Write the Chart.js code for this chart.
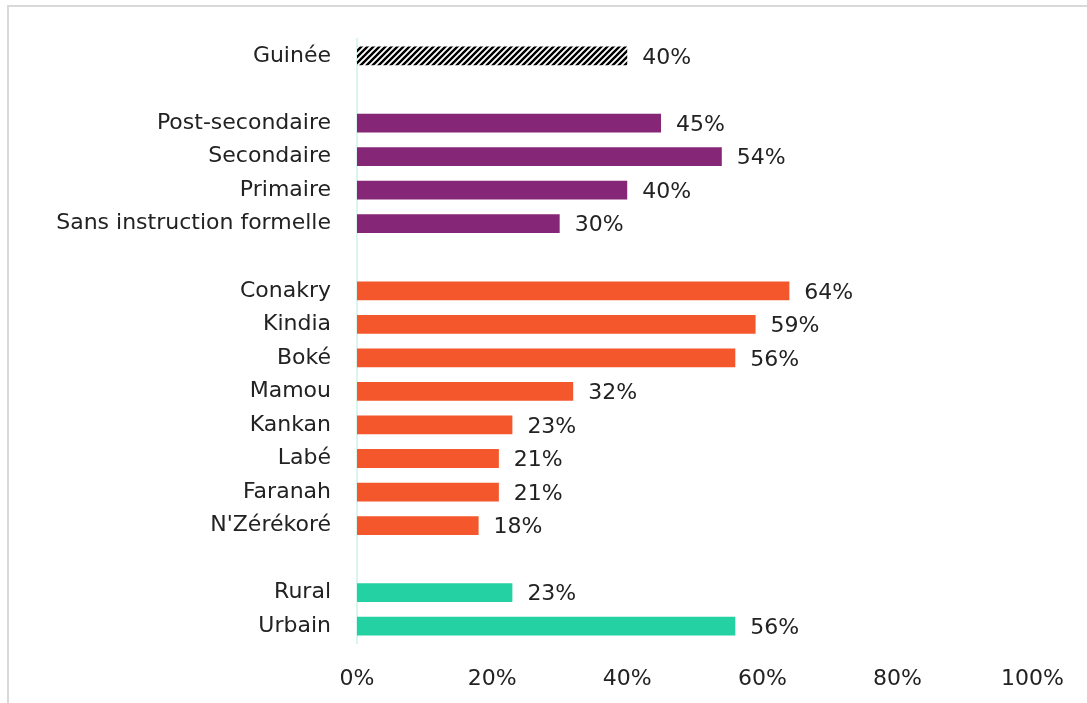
<!DOCTYPE html>
<html>
<head>
<meta charset="utf-8">
<script src="https://cdn.jsdelivr.net/npm/chart.js@4.4.1/dist/chart.umd.min.js"></script>
<style>
    html, body { margin: 0; padding: 0; background: #fff; }
    #wrap { position: relative; width: 1087px; height: 703px; overflow: hidden; }
    #frame { position: absolute; left: 7px; top: 5px; width: 1090px; height: 710px; border: 2px solid #d9d9d9; box-sizing: border-box; }
    #chart { position: absolute; left: 0; top: 0; }
</style>
</head>
<body>
<div id="wrap">
    <div id="frame"></div>
    <canvas id="chart" width="1087" height="703"></canvas>
</div>
<script>
// rows, top to bottom; '' = spacer row
const categories = ['Guinée', '', 'Post-secondaire', 'Secondaire', 'Primaire', 'Sans instruction formelle', '',
    'Conakry', 'Kindia', 'Boké', 'Mamou', 'Kankan', 'Labé', 'Faranah', "N'Zérékoré", '', 'Rural', 'Urbain']
const values = [40, null, 45, 54, 40, 30, null, 64, 59, 56, 32, 23, 21, 21, 18, null, 23, 56]
const groups = ['national', null, 'edu', 'edu', 'edu', 'edu', null,
    'region', 'region', 'region', 'region', 'region', 'region', 'region', 'region', null, 'milieu', 'milieu']
const xTicks = [0, 20, 40, 60, 80, 100]

const FONT = 'DejaVu Sans'
const FONT_SIZE = 22

function hatchPattern() {
    const c = document.createElement('canvas')
    c.width = 6
    c.height = 6
    const g = c.getContext('2d')
    g.fillStyle = '#fff'
    g.fillRect(0, 0, 6, 6)
    g.strokeStyle = '#000'
    g.lineWidth = 2.4
    g.beginPath()
    g.moveTo(-1, 7); g.lineTo(7, -1)
    g.moveTo(-4, 4); g.lineTo(4, -4)
    g.moveTo(2, 10); g.lineTo(10, 2)
    g.stroke()
    return document.getElementById('chart').getContext('2d').createPattern(c, 'repeat')
}

const colors = {
    national: hatchPattern(),
    edu: '#852676',
    region: '#f4572b',
    milieu: '#24d1a2'
}

const valueLabels = {
    id: 'valueLabels',
    afterDatasetsDraw(chart) {
        const ctx = chart.ctx
        const meta = chart.getDatasetMeta(0)
        ctx.save()
        ctx.font = FONT_SIZE + 'px "' + FONT + '"'
        ctx.fillStyle = '#222'
        ctx.textAlign = 'left'
        ctx.textBaseline = 'middle'
        meta.data.forEach((bar, i) => {
            if (values[i] == null) return
            ctx.fillText(values[i] + '%', bar.x + 15, bar.y + 2)
        })
        ctx.restore()
    }
}

new Chart(document.getElementById('chart'), {
    type: 'bar',
    plugins: [valueLabels],
    data: {
        labels: categories,
        datasets: [{
            data: values,
            backgroundColor: groups.map(g => g ? colors[g] : 'transparent'),
            barPercentage: 0.56,
            categoryPercentage: 1
        }]
    },
    options: {
        indexAxis: 'y',
        responsive: false,
        animation: false,
        layout: { padding: { top: 33, right: 45, bottom: 0, left: 0 } },
        plugins: {
            legend: { display: false },
            tooltip: { enabled: false }
        },
        scales: {
            x: {
                min: 0,
                max: 100,
                afterFit: (s) => { s.height = 60 },
                afterBuildTicks: (s) => { s.ticks = xTicks.map(v => ({ value: v })) },
                grid: { display: false, drawTicks: false },
                border: { display: false },
                ticks: {
                    padding: 23,
                    color: '#222',
                    font: { family: FONT, size: FONT_SIZE },
                    callback: (v) => v + '%'
                }
            },
            y: {
                afterFit: (s) => { s.width = 357 },
                grid: { display: false, drawTicks: false },
                border: { display: true, color: '#d8f6ee', width: 2 },
                ticks: {
                    padding: 26,
                    autoSkip: false,
                    color: '#222',
                    font: { family: FONT, size: FONT_SIZE }
                }
            }
        }
    }
})
</script>
</body>
</html>
